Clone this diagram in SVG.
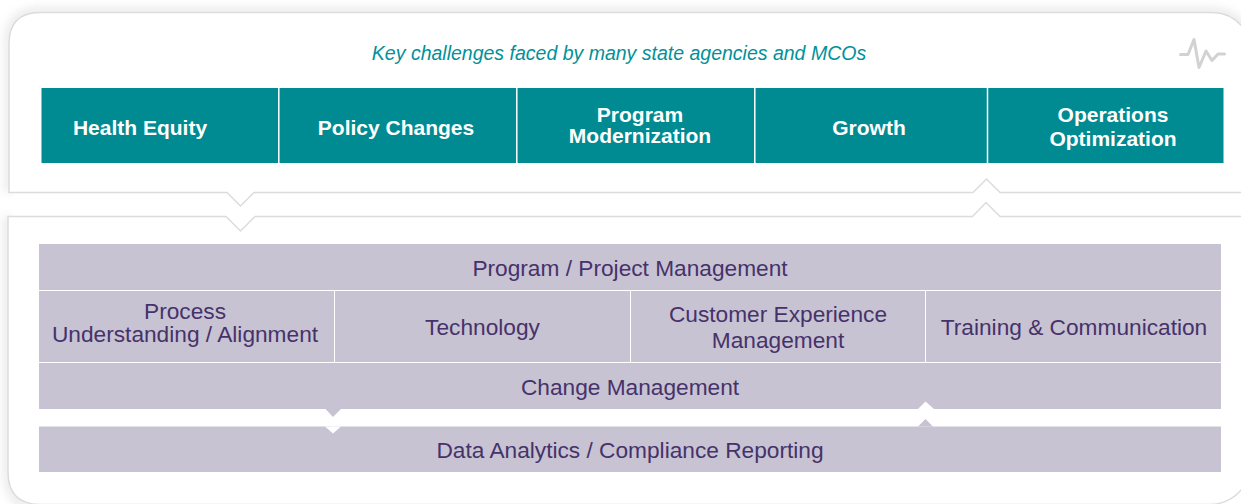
<svg xmlns="http://www.w3.org/2000/svg" width="1241" height="504" viewBox="0 0 1241 504">
<style>
.panel{fill:#fff;stroke:#dcdcdc;stroke-width:1.5}
.teal{fill:#008b92}
.lav{fill:#c8c3d2}
.sep{stroke:#fff;stroke-width:1.5;fill:none}
.h{font-family:"Liberation Sans",Arial,sans-serif;font-weight:700;font-size:21px;fill:#fff;text-anchor:middle}
.b{font-family:"Liberation Sans",Arial,sans-serif;font-size:22.700px;fill:#46326b;text-anchor:middle}
.t{font-family:"Liberation Sans",Arial,sans-serif;font-style:italic;font-size:19.500px;fill:#00919a;text-anchor:middle}
</style>
<defs>
<filter id="soft" x="-5%" y="-10%" width="110%" height="120%"><feGaussianBlur stdDeviation="5"/></filter>
</defs>
<rect width="1241" height="504" fill="#fff"/>
<g id="shadows" filter="url(#soft)" fill="none" stroke="#c4c4c4" stroke-width="4" opacity=".7">
<path d="M8 192V44Q8 11 40 11H1210Q1241 11 1248 40"/>
<path d="M7 216V472Q7 505 40 512"/>
</g>
<g id="panel-top">
<path class="panel" d="M9 192.500V44Q9 12.500 40 12.500H1212Q1232 12.500 1245 30V192.500H1000L986.500 179L973 192.500H254L240.500 206L227 192.500Z"/>
</g>
<g id="panel-bottom">
<path class="panel" d="M8 216.500V472Q8 504 40 504.500H1210Q1232 504 1245 485V216.500H1000L986 202.500L972.500 216.500H255L240.500 231L226 216.500Z"/>
</g>
<g id="title"><text class="t" x="619" y="60">Key challenges faced by many state agencies and MCOs</text></g>
<g id="pulse-icon"><path d="M1180.500 54.500H1188L1194 39.500L1199 67.500L1206 51L1212 60.500L1218 54H1224.500" fill="none" stroke="#d2d2d2" stroke-width="3" stroke-linejoin="round" stroke-linecap="round"/></g>
<g id="challenge-bar">
<rect class="teal" x="41.500" y="88" width="1182" height="75"/>
<path class="sep" d="M278.800 88V163M516.800 88V163M754.800 88V163M987.500 88V163"/>
</g>
<g id="health-equity"><text class="h" x="140" y="135">Health Equity</text></g>
<g id="policy-changes"><text class="h" x="396" y="135">Policy Changes</text></g>
<g id="program-modernization"><text class="h" x="640" y="122">Program</text><text class="h" x="640" y="143">Modernization</text></g>
<g id="growth"><text class="h" x="869" y="135">Growth</text></g>
<g id="operations-optimization"><text class="h" x="1113" y="122">Operations</text><text class="h" x="1113" y="146">Optimization</text></g>
<g id="program-project"><rect class="lav" x="39" y="244" width="1182" height="46"/><text class="b" x="630" y="276">Program / Project Management</text></g>
<g id="process"><rect class="lav" x="39" y="291" width="295" height="71"/><text class="b" x="185" y="319">Process</text><text class="b" x="185" y="342">Understanding / Alignment</text></g>
<g id="technology"><rect class="lav" x="335" y="291" width="295" height="71"/><text class="b" x="482.500" y="335">Technology</text></g>
<g id="customer-experience"><rect class="lav" x="631" y="291" width="294" height="71"/><text class="b" x="778" y="322">Customer Experience</text><text class="b" x="778" y="348">Management</text></g>
<g id="training"><rect class="lav" x="926" y="291" width="295" height="71"/><text class="b" x="1074" y="335">Training &amp; Communication</text></g>
<g id="change-management"><rect class="lav" x="39" y="363" width="1182" height="46"/><text class="b" x="630" y="395">Change Management</text></g>
<g id="data-analytics"><rect class="lav" x="39" y="426.500" width="1182" height="45.500"/><text class="b" x="630" y="458">Data Analytics / Compliance Reporting</text></g>
<g id="connectors">
<path class="lav" d="M325.500 409H341L333 417Z"/>
<path d="M325 426.500H341L333 433.500Z" fill="#fff"/>
<path d="M918 409H934L925.500 401.500Z" fill="#fff"/>
<path class="lav" d="M918 426.500H933L925.500 419Z"/>
</g>
</svg>
